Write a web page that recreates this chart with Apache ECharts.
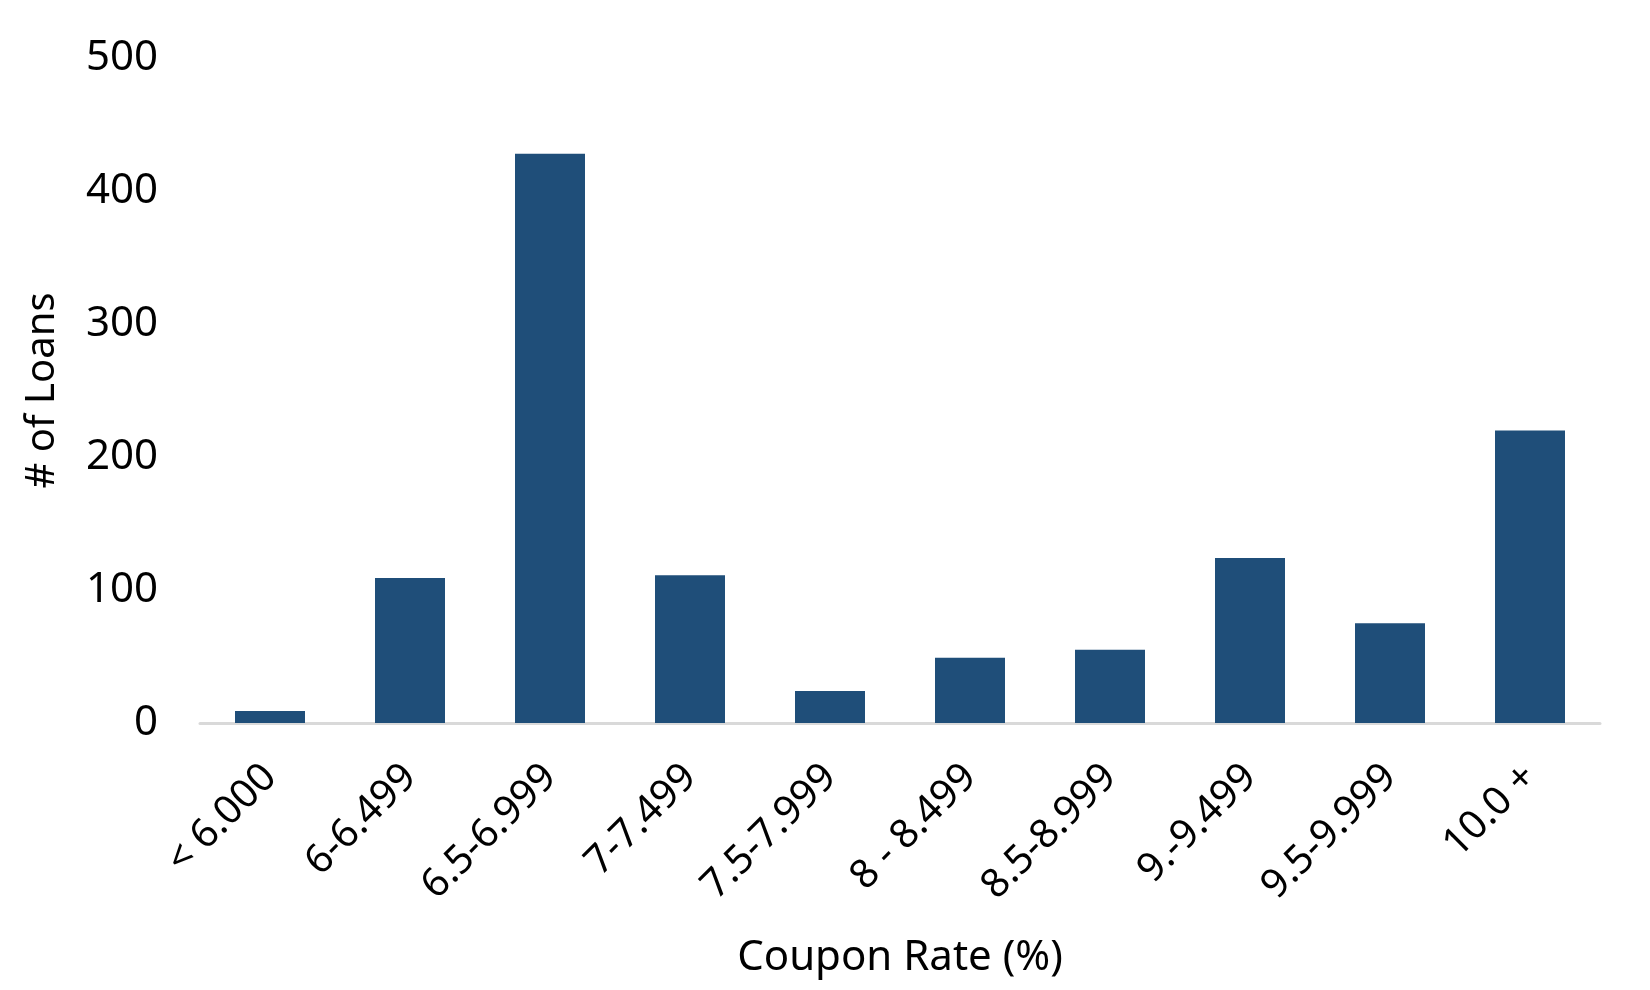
<!DOCTYPE html>
<html lang="en">
<head>
    <meta charset="UTF-8">
    <title>Coupon Rate</title>
    <style>
        html, body { margin: 0; padding: 0; background: #fff; }
        #chart { width: 1650px; height: 990px; }
    </style>
</head>
<body>
<div id="chart"></div>
<script src="https://cdn.jsdelivr.net/npm/echarts@6/dist/echarts.min.js"></script>
<script type="text/javascript">
    var categories = ['< 6.000', '6-6.499', '6.5-6.999', '7-7.499', '7.5-7.999', '8 - 8.499', '8.5-8.999', '9.-9.499', '9.5-9.999', '10.0 +'];
    var loans = [9, 109, 428, 111, 24, 49, 55, 124, 75, 220];
    var yTicks = [0, 100, 200, 300, 400, 500];

    var fontName = 'Noto Sans';
    var chart = echarts.init(document.getElementById('chart'));

    chart.setOption({
        animation: false,
        textStyle: { fontFamily: fontName, color: '#000' },
        grid: { left: 200, right: 50, top: 58, bottom: 267 },
        xAxis: {
            type: 'category',
            data: categories,
            name: 'Coupon Rate (%)',
            nameLocation: 'middle',
            nameGap: 214,
            nameTextStyle: { fontSize: 42, color: '#000', fontFamily: fontName },
            axisLine: { lineStyle: { color: '#d9d9d9', width: 3 } },
            axisTick: { show: false },
            axisLabel: {
                rotate: 45,
                margin: 48,
                fontSize: 40,
                color: '#000',
                interval: 0
            }
        },
        yAxis: {
            type: 'value',
            min: yTicks[0],
            max: yTicks[yTicks.length - 1],
            interval: 100,
            name: '# of Loans',
            nameLocation: 'middle',
            nameGap: 137,
            nameTextStyle: { fontSize: 40, color: '#000', fontFamily: fontName },
            axisLine: { show: false },
            axisTick: { show: false },
            splitLine: { show: false },
            axisLabel: { fontSize: 42, color: '#000', margin: 42 }
        },
        series: [{
            type: 'bar',
            data: loans,
            barWidth: '50%',
            itemStyle: { color: '#1f4e79' }
        }]
    });
</script>
</body>
</html>
